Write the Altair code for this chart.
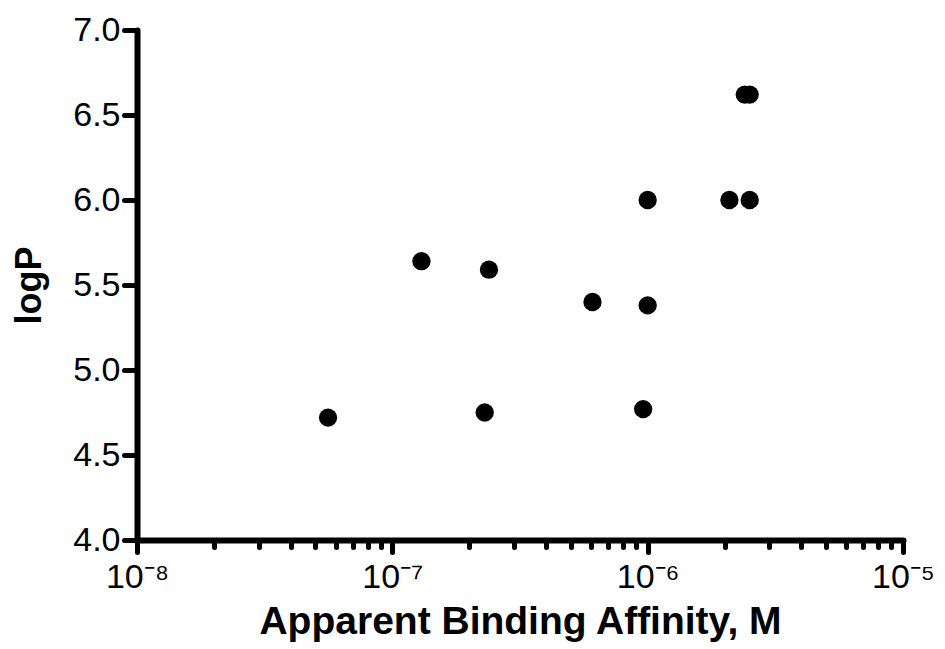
import math

import altair as alt
import pandas as pd

# Apparent binding affinity (M) and logP of each compound
affinity = [5.6e-8, 1.30e-7, 2.39e-7, 2.30e-7, 6.08e-7, 1.0e-6, 9.6e-7,
            1.0e-6, 2.09e-6, 2.51e-6, 2.40e-6, 2.51e-6]
logp = [4.72, 5.64, 5.59, 4.75, 5.40, 5.38, 4.77,
        6.00, 6.00, 6.00, 6.62, 6.62]

# Axis ticks
decades = [1e-8, 1e-7, 1e-6, 1e-5]
decade_labels = ["10\u207b\u2078", "10\u207b\u2077", "10\u207b\u2076", "10\u207b\u2075"]
minor_ticks = [m * d for d in decades[:-1] for m in range(2, 10)]
y_ticks = [4.0, 4.5, 5.0, 5.5, 6.0, 6.5, 7.0]

df = pd.DataFrame({"affinity": affinity, "logp": logp})

is_decade = "abs(log(datum.value)/LN10 - round(log(datum.value)/LN10)) < 1e-6"
label_expr = " : ".join(
    f"abs(log(datum.value)/LN10 - ({round(math.log10(d))})) < 1e-6 ? '{lab}'"
    for d, lab in zip(decades, decade_labels)
) + " : ''"

FONT = "Liberation Sans"

chart = (
    alt.Chart(df)
    .mark_circle(size=335, color="black", opacity=1)
    .encode(
        x=alt.X(
            "affinity:Q",
            scale=alt.Scale(type="log", domain=[1e-8, 1e-5], nice=False),
            axis=alt.Axis(
                title="Apparent Binding Affinity, M",
                values=decades + minor_ticks,
                labelExpr=label_expr,
                tickSize={"condition": {"test": is_decade, "value": 12}, "value": 7},
                labelPadding=8,
                titlePadding=8,
                titleFontSize=39,
            ),
        ),
        y=alt.Y(
            "logp:Q",
            scale=alt.Scale(domain=[4.0, 7.0], nice=False, zero=False),
            axis=alt.Axis(
                title="logP",
                values=y_ticks,
                format=".1f",
                tickSize=13,
                labelPadding=4,
                titlePadding=24,
                titleFontSize=36,
            ),
        ),
    )
    .properties(
        width=766,
        height=510,
        padding={"left": 137, "top": 30, "right": 42, "bottom": 109},
        autosize=alt.AutoSizeParams(type="none"),
    )
    .configure_view(stroke=None)
    .configure_axis(
        grid=False,
        domainColor="black",
        domainWidth=6,
        domainCap="round",
        tickColor="black",
        tickWidth=5,
        tickCap="round",
        labelFont=FONT,
        labelFontSize=34,
        labelColor="black",
        titleFont=FONT,
        titleFontWeight="bold",
        titleColor="black",
        labelOverlap=False,
        labelFlush=False,
    )
)

chart.save("out.html", embed_options={"renderer": "svg", "actions": False})
